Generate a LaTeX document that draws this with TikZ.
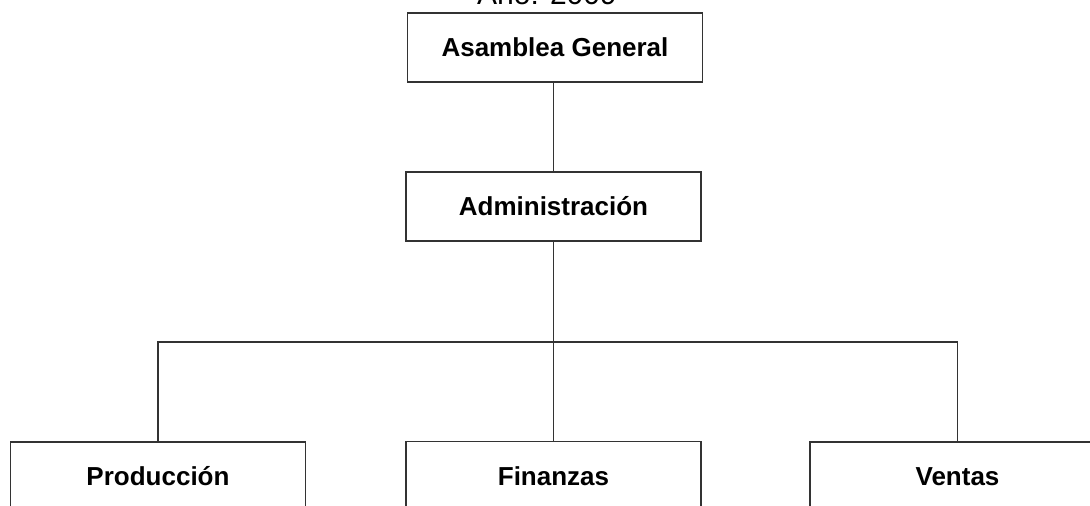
\documentclass[tikz,border=0pt]{standalone}
\usepackage{fontspec}
\setmainfont{Liberation Sans}
\begin{document}
\begin{tikzpicture}[x=1pt,y=-1pt,
  org/.style={draw=black!80, line width=1.5pt, fill=white, minimum width=295pt, minimum height=69pt, inner sep=0pt, font=\fontsize{26}{31}\selectfont\bfseries},
  conn/.style={draw=black!80, line width=1.5pt}]
\clip (0,0) rectangle (1090,506);
\fill[white] (0,0) rectangle (1090,506);
\node[anchor=base, font=\fontsize{30}{36}\selectfont, inner sep=0pt] (title) at (547,4.5) {Año: 2009};
\node[org] (asamblea) at (555,47.5) {Asamblea General};
\node[org] (admin) at (553.5,206.5) {Administración};
\node[org] (prod) at (158,476.5) {Producción};
\node[org] (fin) at (553.5,476) {Finanzas};
\node[org] (ventas) at (957.5,476.5) {Ventas};
\coordinate (bus) at (553.5,342);
\draw[conn] (asamblea.south -| admin.north) -- (admin.north);
\draw[conn] (admin.south) -- (fin.north);
\draw[conn] (bus) -| (prod.north);
\draw[conn] (bus) -| (ventas.north);
\end{tikzpicture}
\end{document}
